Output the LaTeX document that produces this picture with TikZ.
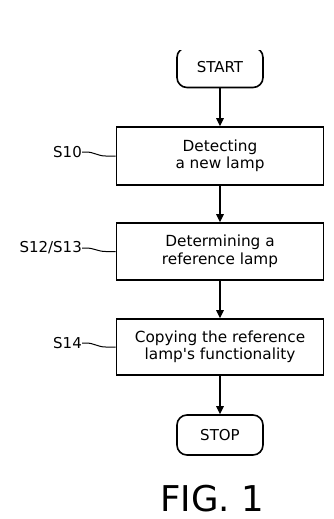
\documentclass[tikz,border=0pt]{standalone}
\usepackage{fontspec}
\setmainfont{DejaVu Sans}
\usetikzlibrary{arrows.meta,calc}
\tikzset{
  stepbox/.style={draw, line width=1.6pt, minimum width=207pt, inner sep=0pt, align=center, font=\fontsize{15.3}{17.5}\selectfont},
  term/.style={draw, line width=1.6pt, rounded corners=10pt, minimum width=86pt, minimum height=40pt, inner sep=0pt, font=\fontsize{15}{17}\selectfont},
  steplabel/.style={anchor=east, inner sep=0pt, font=\fontsize{15}{17}\selectfont},
  flow/.style={line width=1.3pt, -{Triangle[length=8pt,width=7.5pt]}},
  squig/.style={line width=1pt}
}
\begin{document}
\begin{tikzpicture}[x=1pt,y=-1pt]
\useasboundingbox[fill=white] (0,0) rectangle (333,519);
\begin{scope}
  \clip (0,51) rectangle (333,519);
  \node[term] (start) at (220,67.5) {START};
\end{scope}
\node[stepbox, minimum height=58pt] (b1) at (220,156) {Detecting\\a new lamp};
\node[stepbox, minimum height=57pt] (b2) at (220,251.5) {Determining a\\reference lamp};
\node[stepbox, minimum height=56pt] (b3) at (220,347) {Copying the reference\\lamp\textquotesingle s functionality};
\node[term] (stop) at (220,435) {STOP};
\node[font=\fontsize{35.5}{40}\selectfont, inner sep=0pt] (fig) at (212,499) {FIG. 1};

\node[steplabel] (l1) at (82,152) {S10};
\node[steplabel] (l2) at (82,248) {S12/S13};
\node[steplabel] (l3) at (82,343) {S14};

\draw[flow] (start.south) -- (b1.north);
\draw[flow] (b1.south) -- (b2.north);
\draw[flow] (b2.south) -- (b3.north);
\draw[flow] (b3.south) -- (stop.north);

\foreach \l/\b in {l1/b1,l2/b2,l3/b3}{
  \draw[squig] (\l.east) -- ++(4,0) .. controls +(8,0) and +(-8,0) .. ($(\b.west)+(-10,0)$) -- (\b.west);
}
\end{tikzpicture}
\end{document}
